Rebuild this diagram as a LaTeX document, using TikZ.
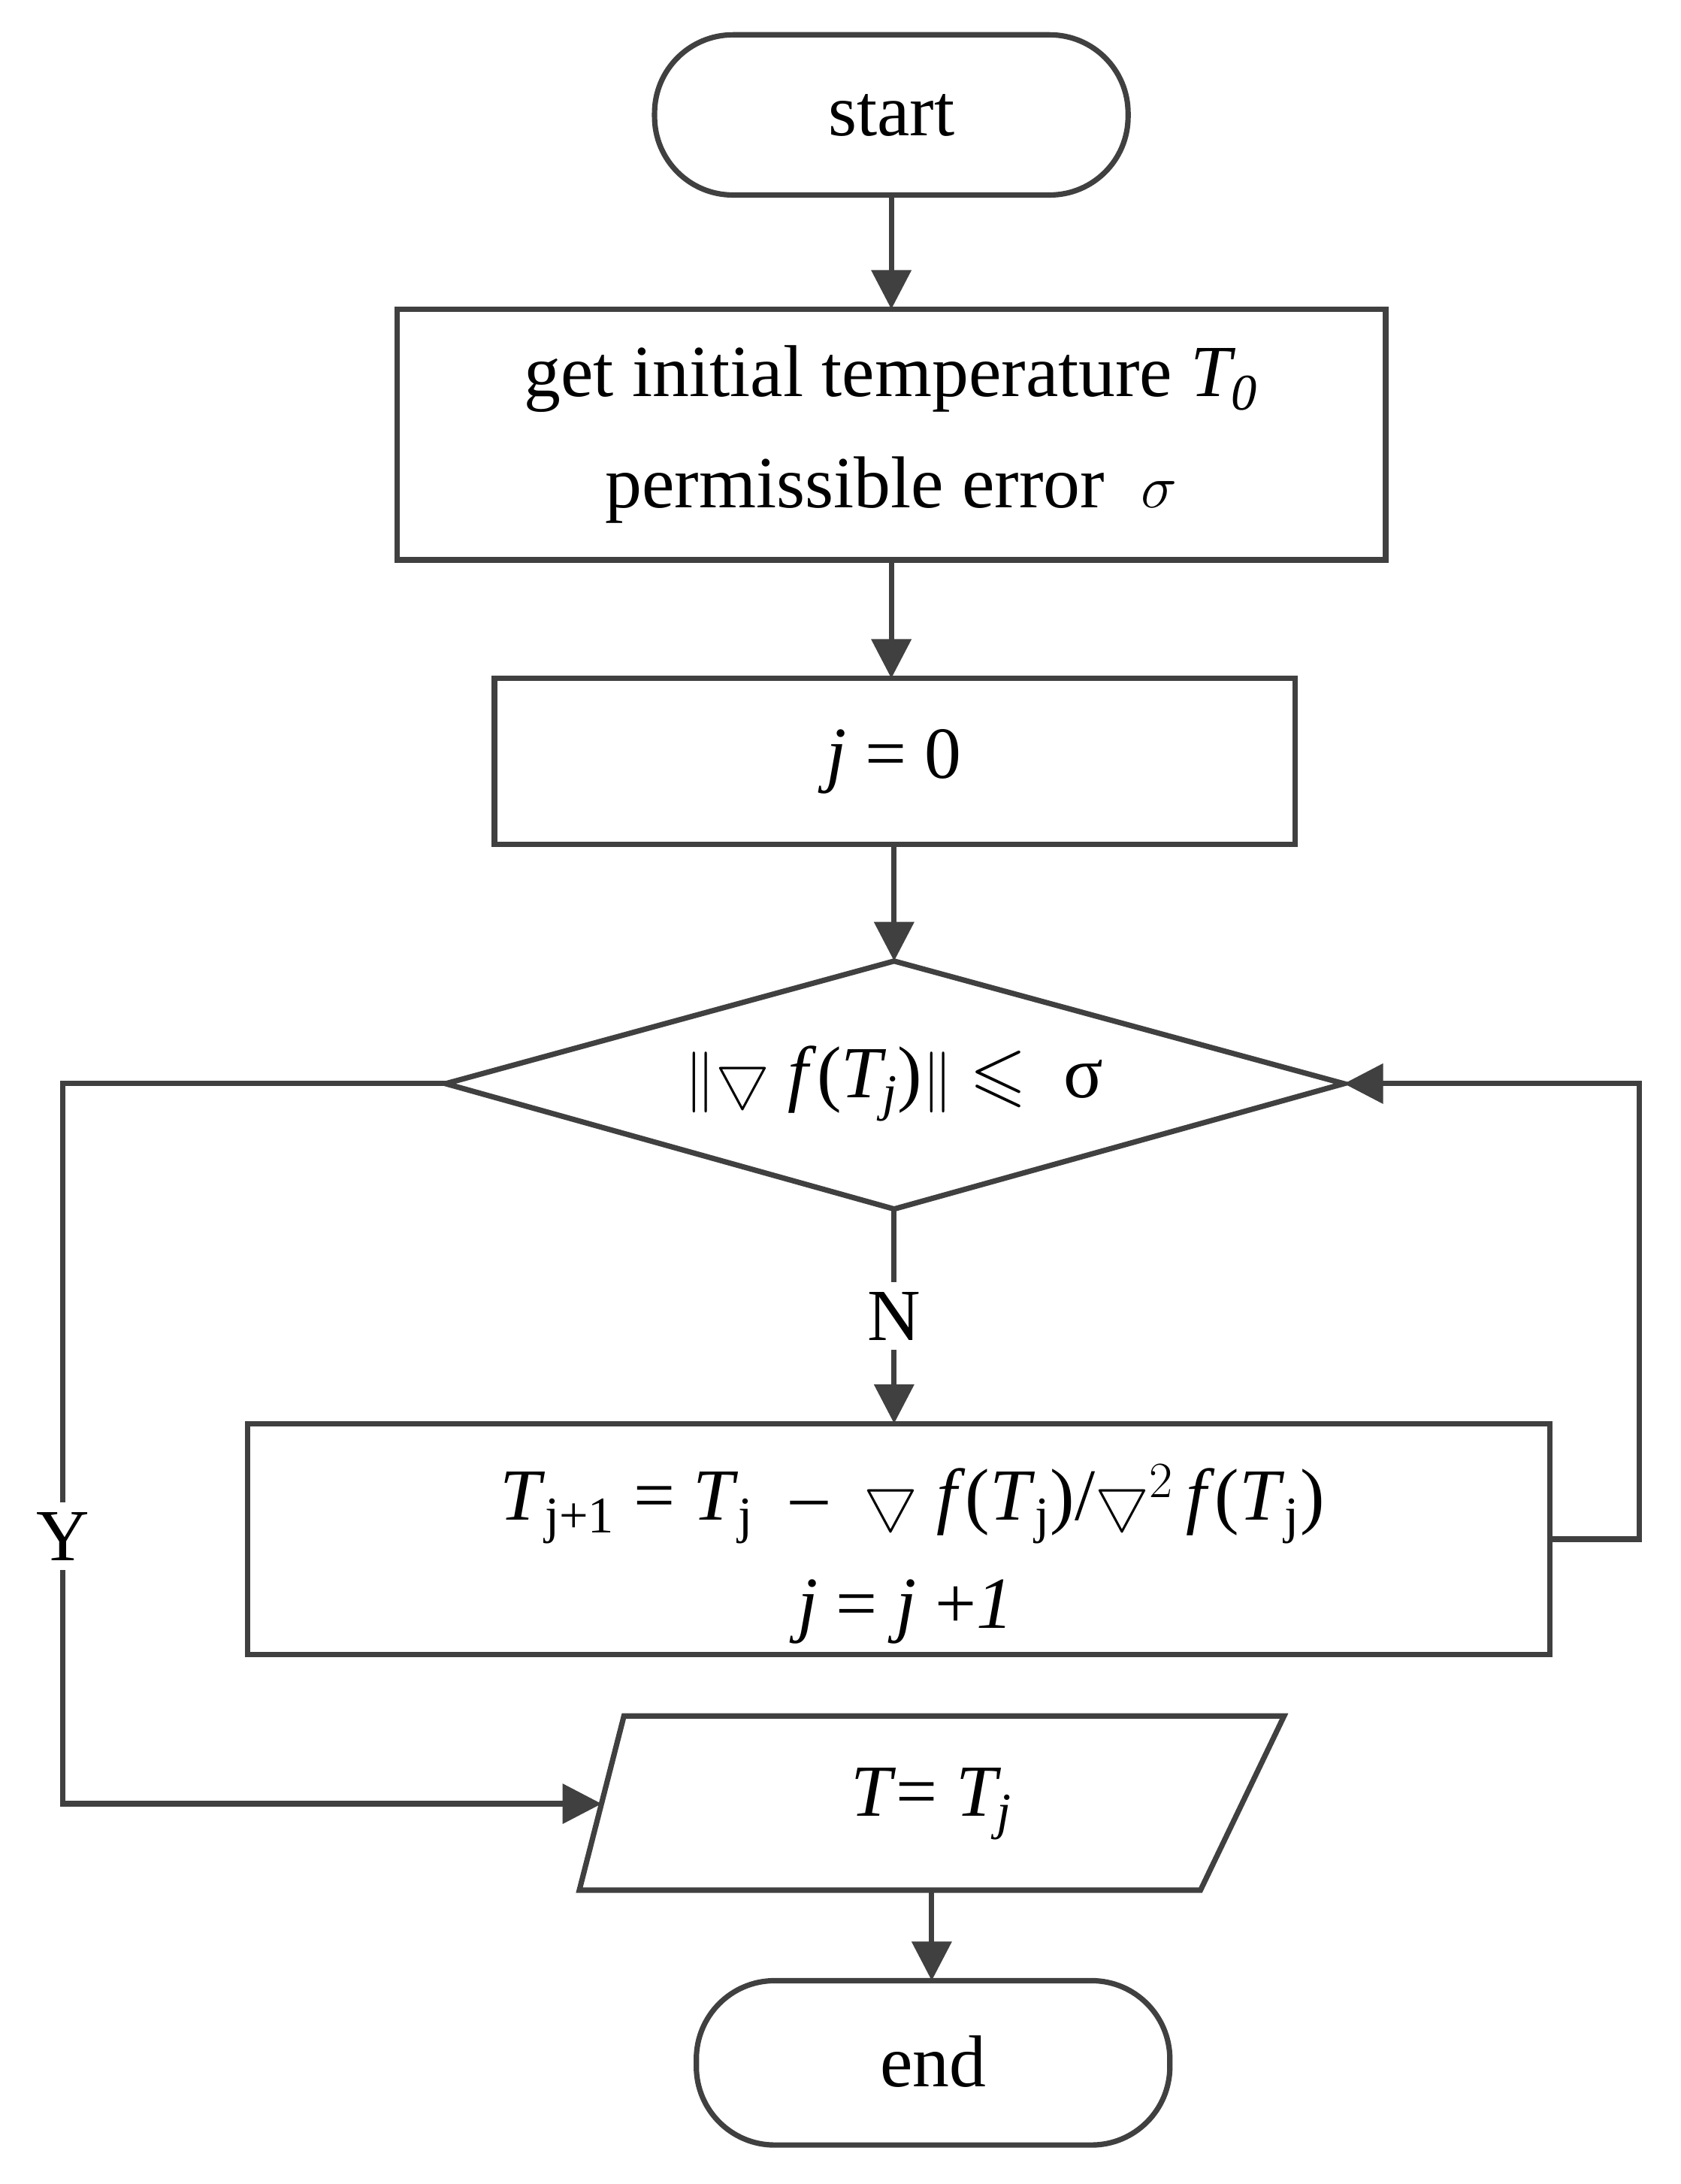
\documentclass[tikz,border=0pt]{standalone}
\usepackage{amssymb}
\usepackage{fontspec}
\setmainfont{Liberation Serif}
\usetikzlibrary{arrows.meta,shapes.geometric}
\begin{document}
\begin{tikzpicture}[x=0.02cm,y=-0.02cm,
 ln/.style={line width=2.2pt,draw=black!75},
 ar/.style={ln,-{Triangle[length=16pt,width=16pt]}},
 txt/.style={font=\fontsize{30}{36}\selectfont,text=black},
 lbl/.style={txt,fill=white,inner sep=4pt}]
\useasboundingbox (0,0) rectangle (1207,1568);
\draw[ln,rounded corners=32pt] (470,25) rectangle (810,140);
\node[txt] (s) at (640,83) {start};
\draw[ln] (285,222) rectangle (995,402);
\node[txt] (b1) at (640,272) {get initial temperature \textit{T\textsubscript{0}}};
\node[txt] at (640,352) {permissible error \ $\sigma$};
\draw[ln] (355,487) rectangle (930,606);
\node[txt] (b2) at (642,547) {\textit{j} = 0};
\draw[ln] (320,778) -- (642,690) -- (965,778) -- (642,868) -- cycle;
\node[txt] (d) at (642,778) {$\|\bigtriangledown$ \textit{f}(\textit{T\textsubscript{j}})$\|\leqslant$ \ σ};
\draw[ln] (178,1022) rectangle (1113,1188);
\node[txt] (b3) at (655,1080) {\textit{T}\textsubscript{j+1} = \textit{T}\textsubscript{j} \ -- \ $\bigtriangledown$ \textit{f}(\textit{T}\textsubscript{j})/$\bigtriangledown^2$\,\textit{f}(\textit{T}\textsubscript{j})};
\node[txt] at (650,1157) {\textit{j} = \textit{j} +\textit{1}};
\draw[ln] (448,1232) -- (922,1232) -- (862,1357) -- (416,1357) -- cycle;
\node[txt] (p) at (669,1295) {\textit{T}= \textit{T\textsubscript{j}}};
\draw[ln,rounded corners=32pt] (500,1422) rectangle (840,1540);
\node[txt] (e) at (670,1480) {end};
\coordinate (a1) at (640,140); \coordinate (a2) at (640,222);
\draw[ar] (a1) -- (a2);
\coordinate (c1) at (640,402); \coordinate (c2) at (640,487);
\draw[ar] (c1) -- (c2);
\coordinate (e1) at (642,606); \coordinate (e2) at (642,690);
\draw[ar] (e1) -- (e2);
\coordinate (n1) at (642,868); \coordinate (n2) at (642,1022);
\draw[ar] (n1) -- (n2);
\node[lbl] (N) at (642,945) {N};
\coordinate (dl) at (320,778); \coordinate (pl) at (432,1295);
\draw[ar] (dl) -- (45,778) -- (45,1295) -- (pl);
\node[lbl] (Y) at (45,1103) {Y};
\coordinate (r1) at (1113,1105); \coordinate (dr) at (965,778);
\draw[ar] (r1) -- (1177,1105) -- (1177,778) -- (dr);
\coordinate (f1) at (669,1357); \coordinate (f2) at (669,1422);
\draw[ar] (f1) -- (f2);
\end{tikzpicture}
\end{document}
